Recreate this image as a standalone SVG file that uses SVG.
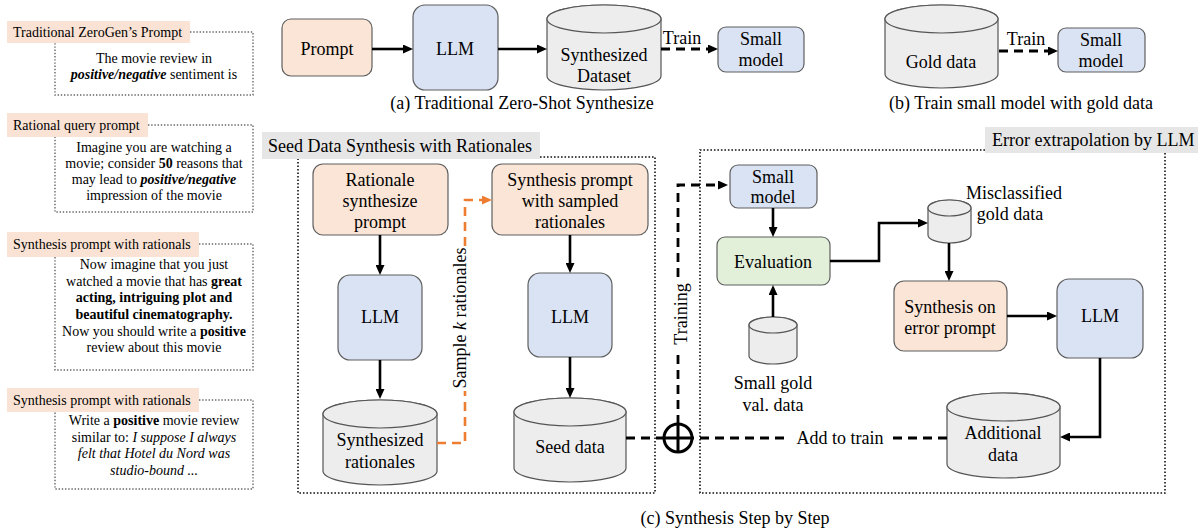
<svg xmlns="http://www.w3.org/2000/svg" width="1203" height="530" viewBox="0 0 1203 530">
<style>
text{font-family:"Liberation Serif","Times New Roman",serif;fill:#000}
.n{font-size:18px;text-anchor:middle}
.cap{font-size:18px;text-anchor:middle}
.s{font-size:14px;text-anchor:middle}
.lab{font-size:14px}
.peach{fill:#fbe5d6;stroke:#5f5f5f;stroke-width:1.2}
.blue{fill:#dae3f3;stroke:#5f5f5f;stroke-width:1.2}
.green{fill:#e2f0d9;stroke:#5f5f5f;stroke-width:1.2}
.cyl{fill:#ededed;stroke:#555;stroke-width:1.2}
.labbg{fill:#fae3d4}
.tbg{fill:#e7e6e6}
.dotbox{fill:none;stroke:#666;stroke-width:1.4;stroke-dasharray:1.4 1.8}
.frame{fill:none;stroke:#111;stroke-width:1.6;stroke-dasharray:1.6 1.9}
.ar{fill:none;stroke:#000;stroke-width:2.6}
.da{fill:none;stroke:#000;stroke-width:2.8;stroke-dasharray:9 6}
.oa{fill:none;stroke:#ed7d31;stroke-width:2.6;stroke-dasharray:9 6}
b{font-weight:bold}
</style>
<defs>
<marker id="ah" markerUnits="userSpaceOnUse" markerWidth="10" markerHeight="9" viewBox="0 0 10 9" refX="1" refY="4.5" orient="auto"><path d="M0,0 L10,4.5 L0,9 Z" fill="#000"/></marker>
<marker id="aho" markerUnits="userSpaceOnUse" markerWidth="10" markerHeight="9" viewBox="0 0 10 9" refX="1" refY="4.5" orient="auto"><path d="M0,0 L10,4.5 L0,9 Z" fill="#ed7d31"/></marker>
</defs>

<!-- Left column prompt examples -->
<g id="ex-zerogen">
<rect class="labbg" x="7" y="21" width="183" height="22"/>
<text class="lab" x="13" y="37">Traditional ZeroGen’s Prompt</text>
<path class="dotbox" d="M190,32 H253 V95 H55 V43"/>
<text class="s" x="154" y="63">The movie review in</text>
<text class="s" x="154" y="79"><tspan font-weight="bold" font-style="italic">positive/negative</tspan> sentiment is</text>
</g>
<g id="ex-rational">
<rect class="labbg" x="7" y="113" width="141" height="24"/>
<text class="lab" x="13" y="130">Rational query prompt</text>
<path class="dotbox" d="M148,125 H253 V212 H55 V137"/>
<text class="s" x="154" y="152">Imagine you are watching a</text>
<text class="s" x="154" y="168">movie; consider <tspan font-weight="bold">50</tspan> reasons that</text>
<text class="s" x="154" y="184">may lead to <tspan font-weight="bold" font-style="italic">positive/negative</tspan></text>
<text class="s" x="154" y="200">impression of the movie</text>
</g>
<g id="ex-synth1">
<rect class="labbg" x="7" y="232" width="192" height="25"/>
<text class="lab" x="13" y="249">Synthesis prompt with rationals</text>
<path class="dotbox" d="M199,244 H253 V370 H55 V257"/>
<text class="s" x="154" y="269">Now imagine that you just</text>
<text class="s" x="154" y="286">watched a movie that has <tspan font-weight="bold">great</tspan></text>
<text class="s" x="154" y="302" font-weight="bold">acting, intriguing plot and</text>
<text class="s" x="154" y="319" font-weight="bold">beautiful cinematography.</text>
<text class="s" x="154" y="336">Now you should write a <tspan font-weight="bold">positive</tspan></text>
<text class="s" x="154" y="352">review about this movie</text>
</g>
<g id="ex-synth2">
<rect class="labbg" x="7" y="388" width="192" height="24"/>
<text class="lab" x="13" y="405">Synthesis prompt with rationals</text>
<path class="dotbox" d="M199,400 H253 V489 H55 V412"/>
<text class="s" x="154" y="425">Write a <tspan font-weight="bold">positive</tspan> movie review</text>
<text class="s" x="154" y="442">similar to: <tspan font-style="italic">I suppose I always</tspan></text>
<text class="s" x="154" y="458" font-style="italic">felt that Hotel du Nord was</text>
<text class="s" x="154" y="475" font-style="italic">studio-bound ...</text>
</g>

<!-- (a) -->
<g id="a-prompt">
<rect class="peach" x="282" y="19" width="90" height="57" rx="9"/>
<text class="n" x="327" y="55">Prompt</text>
</g>
<g id="a-llm">
<rect class="blue" x="413" y="5" width="85" height="85" rx="12"/>
<text class="n" x="455" y="55">LLM</text>
</g>
<g id="a-dataset">
<path class="cyl" d="M547,19 V76 A57,14 0 0 0 661,76 V19 A57,14 0 0 0 547,19 Z"/>
<ellipse class="cyl" cx="604" cy="19" rx="57" ry="14"/>
<text class="n" x="604" y="61">Synthesized</text>
<text class="n" x="604" y="82">Dataset</text>
</g>
<g id="a-small">
<rect class="blue" x="718" y="27" width="86" height="45" rx="8"/>
<text class="n" x="761" y="45">Small</text>
<text class="n" x="761" y="66">model</text>
</g>
<text class="cap" x="522" y="109">(a)  Traditional Zero-Shot Synthesize</text>

<!-- (b) -->
<g id="b-gold">
<path class="cyl" d="M885,19 V74 A56.5,14 0 0 0 998,74 V19 A56.5,14 0 0 0 885,19 Z"/>
<ellipse class="cyl" cx="941.5" cy="19" rx="56.5" ry="14"/>
<text class="n" x="941" y="68">Gold data</text>
</g>
<g id="b-small">
<rect class="blue" x="1058" y="28" width="87" height="44" rx="8"/>
<text class="n" x="1101" y="46">Small</text>
<text class="n" x="1101" y="67">model</text>
</g>
<text class="cap" x="1021" y="109">(b) Train small model with gold data</text>

<!-- (c) frames -->
<g id="seed-frame">
<rect class="tbg" x="262" y="132" width="278" height="27"/>
<text style="font-size:18px" x="268" y="152">Seed Data Synthesis with Rationales</text>
<path class="frame" d="M540,157 H655 V493 H298 V159"/>
</g>
<g id="error-frame">
<rect class="tbg" x="985" y="127" width="213" height="26"/>
<text style="font-size:18px" x="992" y="146">Error extrapolation by LLM</text>
<path class="frame" d="M985,150 H700 V493 H1165 V153"/>
</g>

<g id="c-rat-prompt">
<rect class="peach" x="313" y="164" width="135" height="71" rx="10"/>
<text class="n" x="380" y="186">Rationale</text>
<text class="n" x="380" y="207">synthesize</text>
<text class="n" x="380" y="228">prompt</text>
</g>
<g id="c-llm1">
<rect class="blue" x="338" y="275" width="84" height="85" rx="12"/>
<text class="n" x="380" y="323">LLM</text>
</g>
<g id="c-rationales">
<path class="cyl" d="M323,414 V471 A57,14 0 0 0 437,471 V414 A57,14 0 0 0 323,414 Z"/>
<ellipse class="cyl" cx="380" cy="414" rx="57" ry="14"/>
<text class="n" x="380" y="446">Synthesized</text>
<text class="n" x="380" y="468">rationales</text>
</g>
<g id="c-synth-prompt">
<rect class="peach" x="492" y="164" width="156" height="71" rx="10"/>
<text class="n" x="570" y="186">Synthesis prompt</text>
<text class="n" x="570" y="207">with sampled</text>
<text class="n" x="570" y="228">rationales</text>
</g>
<g id="c-llm2">
<rect class="blue" x="528" y="273" width="84" height="84" rx="12"/>
<text class="n" x="570" y="323">LLM</text>
</g>
<g id="c-seed">
<path class="cyl" d="M514,412 V468 A56,14 0 0 0 626,468 V412 A56,14 0 0 0 514,412 Z"/>
<ellipse class="cyl" cx="570" cy="412" rx="56" ry="14"/>
<text class="n" x="570" y="453">Seed data</text>
</g>
<g id="c-plus">
<circle cx="678" cy="438" r="14" fill="#fff" stroke="#000" stroke-width="3"/>
<path d="M664,438 H692 M678,424 V452" stroke="#000" stroke-width="3"/>
</g>
<g id="c-small">
<rect class="blue" x="730" y="165" width="87" height="43" rx="8"/>
<text class="n" x="773" y="183">Small</text>
<text class="n" x="773" y="203">model</text>
</g>
<g id="c-eval">
<rect class="green" x="717" y="237" width="113" height="48" rx="8"/>
<text class="n" x="773" y="268">Evaluation</text>
</g>
<g id="c-smallgold">
<path class="cyl" d="M749,325 V356 A24,8 0 0 0 797,356 V325 A24,8 0 0 0 749,325 Z"/>
<ellipse class="cyl" cx="773" cy="325" rx="24" ry="8"/>
<text class="n" x="773" y="389">Small gold</text>
<text class="n" x="773" y="411">val. data</text>
</g>
<g id="c-miscls">
<path class="cyl" d="M928,208 V235 A21.5,8 0 0 0 971,235 V208 A21.5,8 0 0 0 928,208 Z"/>
<ellipse class="cyl" cx="949.5" cy="208" rx="21.5" ry="8"/>
<text class="n" x="1014" y="199">Misclassified</text>
<text class="n" x="1010" y="220">gold data</text>
</g>
<g id="c-errprompt">
<rect class="peach" x="894" y="281" width="113" height="70" rx="10"/>
<text class="n" x="950" y="313">Synthesis on</text>
<text class="n" x="950" y="334">error prompt</text>
</g>
<g id="c-llm3">
<rect class="blue" x="1057" y="279" width="86" height="79" rx="12"/>
<text class="n" x="1100" y="322">LLM</text>
</g>
<g id="c-additional">
<path class="cyl" d="M947,407 V464 A56.5,14 0 0 0 1060,464 V407 A56.5,14 0 0 0 947,407 Z"/>
<ellipse class="cyl" cx="1003.5" cy="407" rx="56.5" ry="14"/>
<text class="n" x="1003" y="439">Additional</text>
<text class="n" x="1003" y="461">data</text>
</g>
<text class="cap" x="735" y="524">(c) Synthesis Step by Step</text>

<g id="connectors">
<path class="ar" d="M372,49 H404" marker-end="url(#ah)"/>
<path class="ar" d="M498,49 H538" marker-end="url(#ah)"/>
<path class="da" d="M661,49 H709" marker-end="url(#ah)"/>
<text class="n" x="682" y="44">Train</text>
<path class="da" d="M999,51 H1049" marker-end="url(#ah)"/>
<text class="n" x="1026" y="45">Train</text>

<path class="ar" d="M380,235 V266" marker-end="url(#ah)"/>
<path class="ar" d="M380,360 V390" marker-end="url(#ah)"/>
<path class="ar" d="M570,235 V264" marker-end="url(#ah)"/>
<path class="ar" d="M570,357 V389" marker-end="url(#ah)"/>
<path class="oa" d="M437,443 H465 V391"/>
<path class="oa" d="M465,246 V200 H483" marker-end="url(#aho)"/>
<text class="n" transform="translate(466,318) rotate(-90)">Sample <tspan font-style="italic">k</tspan> rationales</text>

<path class="da" d="M626,438 H664"/>
<path class="da" d="M678,424 V353"/>
<path class="da" d="M678,277 V185 H719" marker-end="url(#ah)"/>
<text class="n" transform="translate(687,314) rotate(-90)">Training</text>

<path class="ar" d="M773,208 V228" marker-end="url(#ah)"/>
<path class="ar" d="M773,317 V294" marker-end="url(#ah)"/>
<path class="ar" d="M830,261 H879 V223 H919" marker-end="url(#ah)"/>
<path class="ar" d="M949,243 V272" marker-end="url(#ah)"/>
<path class="ar" d="M1007,316 H1048" marker-end="url(#ah)"/>
<path class="ar" d="M1100,358 V437 H1069" marker-end="url(#ah)"/>
<path class="da" d="M947,438 H892"/>
<text class="n" x="840" y="444">Add to train</text>
<path class="da" d="M784,438 H692"/>
</g>
</svg>
